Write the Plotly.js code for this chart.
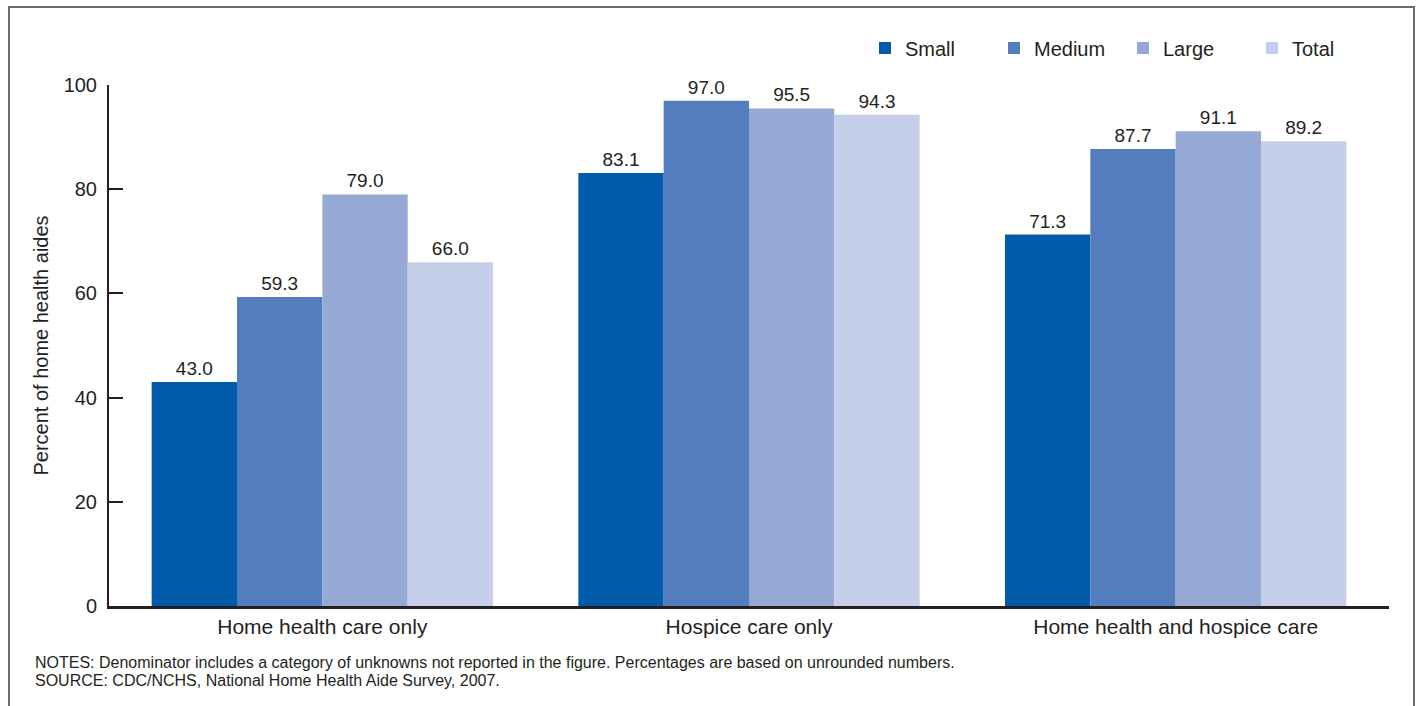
<!DOCTYPE html>
<html>
<head>
<meta charset="utf-8">
<script src="https://cdn.plot.ly/plotly-3.0.1.min.js"></script>
<style>
html,body{margin:0;padding:0;background:#fff;}
#wrap{position:relative;width:1423px;height:706px;overflow:hidden;}
#frame{position:absolute;left:8px;top:6px;width:1407px;height:760px;border:2px solid #6d6e70;box-sizing:border-box;pointer-events:none;}
#chart{position:absolute;left:0;top:0;width:1423px;height:706px;}
</style>
</head>
<body>
<div id="wrap">
<div id="chart"></div>
<div id="frame"></div>
</div>
<script>
const categories = ["Home health care only", "Hospice care only", "Home health and hospice care"];
const seriesNames = ["Small", "Medium", "Large", "Total"];
const small  = [43.0, 83.1, 71.3];
const medium = [59.3, 97.0, 87.7];
const large  = [79.0, 95.5, 91.1];
const total  = [66.0, 94.3, 89.2];
const yTickVals = [0, 20, 40, 60, 80, 100];
const notesText = "NOTES: Denominator includes a category of unknowns not reported in the figure. Percentages are based on unrounded numbers.";
const sourceText = "SOURCE: CDC/NCHS, National Home Health Aide Survey, 2007.";

const seriesValues = [small, medium, large, total];
const colors = ["#005baa", "#537dbd", "#95a9d4", "#c5cfea"];
const font = "Liberation Sans, Arial, sans-serif";
const ink = "#231f20";

const traces = seriesNames.map((name, i) => ({
  type: "bar",
  name: name,
  x: categories,
  y: seriesValues[i],
  marker: {color: colors[i], line: {width: 0}},
  text: seriesValues[i].map(v => v.toFixed(1)),
  textposition: "outside",
  textfont: {family: font, size: 19, color: ink},
  cliponaxis: false,
  hoverinfo: "skip"
}));

const layout = {
  width: 1423,
  height: 706,
  margin: {l: 109, r: 34, t: 85, b: 100},
  paper_bgcolor: "#ffffff",
  plot_bgcolor: "#ffffff",
  font: {family: font, color: ink, size: 20},
  barmode: "group",
  bargap: 0.2,
  bargroupgap: 0,
  showlegend: true,
  legend: {
    orientation: "h",
    x: (1381 - 109) / 1280,
    xanchor: "right",
    y: 1 + (85 - 48) / 521,
    yanchor: "middle",
    font: {family: font, size: 20, color: ink},
    itemwidth: 30,
    entrywidth: 84,
    entrywidthmode: "pixels",
    traceorder: "normal",
    bgcolor: "rgba(0,0,0,0)"
  },
  xaxis: {
    type: "category",
    showline: true,
    linecolor: ink,
    linewidth: 3,
    ticks: "",
    showgrid: false,
    zeroline: false,
    tickfont: {family: font, size: 21, color: ink},
    fixedrange: true
  },
  yaxis: {
    range: [0, 100],
    tickvals: yTickVals,
    ticktext: yTickVals.map(String),
    showline: true,
    linecolor: ink,
    linewidth: 2,
    ticks: "inside",
    ticklen: 14,
    tickwidth: 2,
    tickcolor: ink,
    ticklabelstandoff: 6,
    showgrid: false,
    zeroline: false,
    tickfont: {family: font, size: 20, color: ink},
    title: {text: "Percent of home health aides", font: {family: font, size: 20, color: ink}, standoff: 10},
    automargin: false,
    fixedrange: true
  },
  annotations: [
    {
      xref: "paper", yref: "paper",
      x: (33 - 109) / 1280, y: -(662 - 606) / 521,
      xanchor: "left", yanchor: "middle",
      align: "left",
      showarrow: false,
      text: notesText,
      font: {family: font, size: 16, color: ink}
    },
    {
      xref: "paper", yref: "paper",
      x: (33 - 109) / 1280, y: -(680 - 606) / 521,
      xanchor: "left", yanchor: "middle",
      align: "left",
      showarrow: false,
      text: sourceText,
      font: {family: font, size: 16, color: ink}
    }
  ]
};

Plotly.newPlot("chart", traces, layout, {displayModeBar: false, staticPlot: true});
</script>
</body>
</html>
